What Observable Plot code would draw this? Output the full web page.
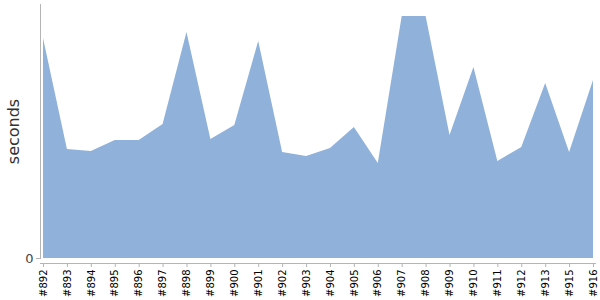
<!DOCTYPE html>
<html>
<head>
<meta charset="utf-8">
<script src="https://cdn.jsdelivr.net/npm/d3@7"></script>
<script src="https://cdn.jsdelivr.net/npm/@observablehq/plot@0.6"></script>
<style>
  html, body { margin: 0; padding: 0; background: #fff; }
  #chart svg { display: block; }
</style>
</head>
<body>
<div id="chart"></div>
<script>
const builds = ["#892","#893","#894","#895","#896","#897","#898","#899","#900","#901","#902","#903","#904","#905","#906","#907","#908","#909","#910","#911","#912","#913","#915","#916"];
const seconds = [220,109,107,118,118,134,226,119,133,217,106,102,110,131,95,242,242,123,191,97,111,175,106,178];
const yTicks = [0];
const yMax = 254;

const data = builds.map((b, i) => ({build: b, value: seconds[i]}));

const chart = Plot.plot({
  width: 600,
  height: 300,
  marginLeft: 43,
  marginRight: 7,
  marginTop: 4,
  marginBottom: 42,
  style: {fontFamily: "DejaVu Sans, sans-serif", background: "#fff"},
  x: {type: "point", domain: builds, padding: 0, round: false},
  y: {domain: [0, yMax]},
  marks: [
    Plot.areaY(data, {x: "build", y: "value", fill: "#8fb1da"}),
    Plot.frame({anchor: "left", dx: -3, stroke: "#b4b4b4"}),
    Plot.ruleY(yTicks, {dy: 5, stroke: "#b4b4b4", insetLeft: -3, insetRight: -3}),
    Plot.axisY({ticks: yTicks, tickSize: 4, dx: -3, tickPadding: 3, fontSize: 13, stroke: "#b4b4b4", fill: "#444", label: null}),
    Plot.axisX({tickRotate: -90, tickSize: 4, dy: 5, tickPadding: 2, fontSize: 10, stroke: "#b4b4b4", fill: "#000", label: null}),
    Plot.text(["seconds"], {frameAnchor: "left", textAnchor: "middle", dx: -30, rotate: -90, fontSize: 16, fill: "#333"})
  ]
});
document.getElementById("chart").appendChild(chart);
</script>
</body>
</html>
